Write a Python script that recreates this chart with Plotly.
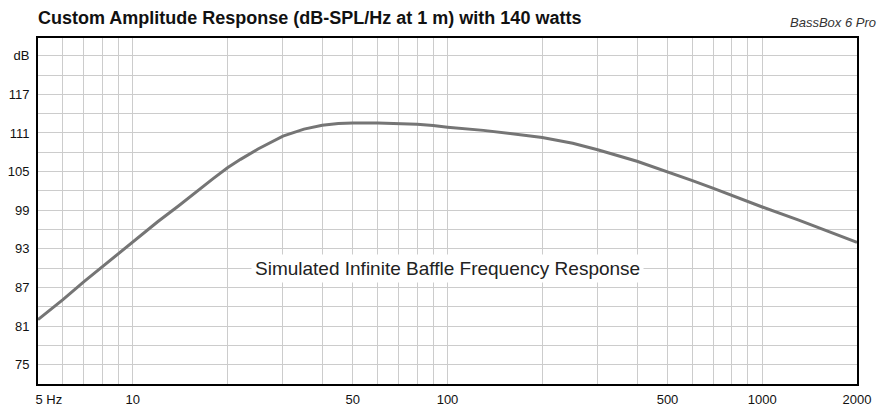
import math
import plotly.graph_objects as go

# ---- data ----
freq_hz = [5, 6, 7, 8, 9, 10, 12, 14, 16, 18, 20, 22, 25, 28, 30, 35, 40, 45, 50,
           60, 70, 80, 90, 100, 130, 160, 200, 250, 300, 400, 500, 600, 700, 800,
           1000, 1300, 1600, 2000]
spl_db = [82.0, 85.1, 87.9, 90.2, 92.2, 94.0, 97.2, 99.7, 102.0, 103.9, 105.6, 106.9,
          108.5, 109.8, 110.5, 111.6, 112.2, 112.45, 112.55, 112.55, 112.5, 112.35,
          112.15, 111.9, 111.4, 110.9, 110.3, 109.4, 108.4, 106.6, 105.0, 103.6, 102.4,
          101.3, 99.5, 97.5, 95.8, 94.0]

x_grid = [5, 6, 7, 8, 9, 10, 20, 30, 40, 50, 60, 70, 80, 90, 100,
          200, 300, 400, 500, 600, 700, 800, 900, 1000, 2000]
x_labels = {5: "\u00a0\u00a0\u00a0\u00a0\u00a0\u00a05 Hz", 10: "10", 50: "50", 100: "100",
            500: "500", 1000: "1000", 2000: "2000"}
y_grid = [72, 75, 78, 81, 84, 87, 90, 93, 96, 99, 102, 105, 108, 111, 114, 117, 120, 123]
y_labels = {75: "75", 81: "81", 87: "87", 93: "93", 99: "99", 105: "105",
            111: "111", 117: "117", 123: "dB"}

title_text = "Custom Amplitude Response (dB-SPL/Hz at 1 m) with 140 watts"
brand_text = "BassBox 6 Pro"
note_text = "Simulated Infinite Baffle Frequency Response"
note_freq = 100
note_db = 90

SANS = "Liberation Sans, Arial, sans-serif"

fig = go.Figure()
fig.add_trace(go.Scatter(
    x=freq_hz, y=spl_db, mode="lines",
    line=dict(color="#757575", width=3),
    hoverinfo="skip", showlegend=False,
))

fig.add_annotation(
    x=math.log10(note_freq), y=note_db, xref="x", yref="y", text=note_text, showarrow=False,
    xanchor="center", yanchor="middle", bgcolor="white", borderpad=3,
    font=dict(family=SANS, size=19, color="#222222"),
)

fig.add_annotation(
    x=1.0256, y=1.046, xref="paper", yref="paper", text="<i>" + brand_text + "</i>",
    showarrow=False, xanchor="right", yanchor="middle",
    font=dict(family=SANS, size=13, color="#333333"),
)

fig.update_layout(
    width=884, height=409,
    margin=dict(l=38, r=27, t=38, b=25, autoexpand=False),
    paper_bgcolor="white", plot_bgcolor="white",
    title=dict(text="<b>" + title_text + "</b>", x=38 / 884, xanchor="left",
               xref="container", y=1 - 18 / 409, yanchor="middle", yref="container",
               font=dict(family=SANS, size=18, color="#111111")),
    xaxis=dict(
        type="log", range=[0.69897, 3.30103], automargin=False,
        tickmode="array", tickvals=x_grid,
        ticktext=[x_labels.get(v, "") for v in x_grid],
        showgrid=True, gridcolor="#cccccc", gridwidth=1,
        showline=True, linecolor="black", linewidth=2, mirror=True,
        ticks="outside", ticklen=2, tickcolor="rgba(0,0,0,0)",
        tickfont=dict(family=SANS, size=13, color="#111111"),
        zeroline=False, fixedrange=True,
    ),
    yaxis=dict(
        range=[72, 125.75], automargin=False,
        tickmode="array", tickvals=y_grid,
        ticktext=[y_labels.get(v, "") for v in y_grid],
        showgrid=True, gridcolor="#cccccc", gridwidth=1,
        showline=True, linecolor="black", linewidth=2, mirror=True,
        ticks="outside", ticklen=4, tickcolor="rgba(0,0,0,0)",
        tickfont=dict(family=SANS, size=13, color="#111111"),
        zeroline=False, fixedrange=True,
    ),
)

fig.write_html("out.html", config={"displayModeBar": False},
               post_script="document.body.style.margin='0';document.body.style.overflow='hidden';")
